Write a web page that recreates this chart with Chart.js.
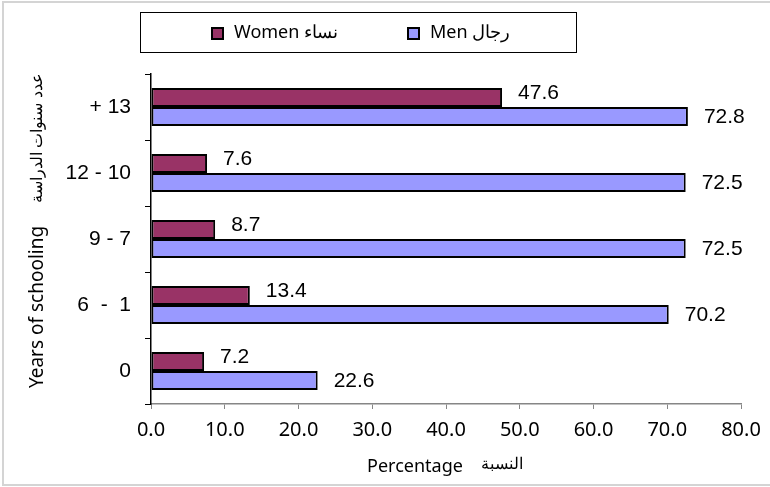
<!DOCTYPE html>
<html>
<head>
<meta charset="utf-8">
<script src="https://cdn.jsdelivr.net/npm/chart.js@4/dist/chart.umd.min.js"></script>
<style>
  html, body { margin: 0; padding: 0; background: #ffffff; }
  #wrap { width: 770px; height: 487px; position: relative; }
</style>
</head>
<body>
<div id="wrap"><canvas id="c" width="770" height="487"></canvas></div>
<script>
const categories = ["+ 13", "12 - 10", "9 - 7", "6  -  1", "0"];
const womenValues = [47.6, 7.6, 8.7, 13.4, 7.2];
const menValues = [72.8, 72.5, 72.5, 70.2, 22.6];
const womenLabel = "Women نساء";
const menLabel = "Men رجال";
const xTitleEn = "Percentage";
const xTitleAr = "النسبة";
const yTitleEn = "Years of schooling";
const yTitleAr = "عدد سنوات الدراسة";

const ARIAL = "'Liberation Sans', Arial, sans-serif";
const SANS = "'Noto Sans', 'Open Sans', sans-serif";

const decorPlugin = {
  id: 'decor',
  afterDraw(chart) {
    const ctx = chart.ctx;
    ctx.save();
    // outer border (left, top, bottom)
    ctx.strokeStyle = '#d4d4d4';
    ctx.lineWidth = 2;
    ctx.beginPath();
    ctx.moveTo(772, 2); ctx.lineTo(3, 2); ctx.lineTo(3, 485); ctx.lineTo(772, 485);
    ctx.stroke();

    // legend box
    ctx.strokeStyle = '#000000';
    ctx.lineWidth = 1;
    ctx.strokeRect(140.5, 12.5, 436, 40);
    const items = [
      { x: 212, label: chart.data.datasets[0].label, color: chart.data.datasets[0].backgroundColor },
      { x: 408, label: chart.data.datasets[1].label, color: chart.data.datasets[1].backgroundColor }
    ];
    ctx.font = '18px ' + SANS;
    ctx.textBaseline = 'middle';
    ctx.textAlign = 'left';
    items.forEach(it => {
      ctx.fillStyle = it.color;
      ctx.fillRect(it.x, 28, 11, 11);
      ctx.strokeStyle = '#000';
      ctx.lineWidth = 2;
      ctx.strokeRect(it.x, 28, 11, 11);
      ctx.fillStyle = '#000';
      ctx.fillText(it.label, it.x + 22, 33);
    });

    // x title
    ctx.fillStyle = '#000';
    ctx.textAlign = 'center';
    ctx.textBaseline = 'middle';
    ctx.font = '18px ' + SANS;
    ctx.fillText(xTitleEn, 415, 467);
    ctx.font = '16px ' + SANS;
    ctx.fillText(xTitleAr, 502, 464);

    // y title
    ctx.save();
    ctx.translate(38, 0);
    ctx.rotate(-Math.PI / 2);
    ctx.font = '19px ' + SANS;
    ctx.fillText(yTitleEn, -307, 0);
    ctx.font = '16px ' + SANS;
    ctx.fillText(yTitleAr, -138, -1);
    ctx.restore();

    ctx.restore();
  },
  afterDatasetsDraw(chart) {
    const ctx = chart.ctx;
    ctx.save();
    ctx.font = '21px ' + ARIAL;
    ctx.fillStyle = '#000';
    ctx.textAlign = 'left';
    ctx.textBaseline = 'middle';
    chart.data.datasets.forEach((ds, di) => {
      const meta = chart.getDatasetMeta(di);
      meta.data.forEach((el, i) => {
        const v = ds.data[i];
        const dy = di === 0 ? -4 : 1;
        ctx.fillText(v.toFixed(1), el.x + 16, el.y + dy);
      });
    });
    ctx.restore();
  }
};

new Chart(document.getElementById('c'), {
  type: 'bar',
  data: {
    labels: categories,
    datasets: [
      { label: womenLabel, data: womenValues, backgroundColor: '#993366', borderColor: '#000000', borderWidth: 2, borderSkipped: false },
      { label: menLabel, data: menValues, backgroundColor: '#9999FF', borderColor: '#000000', borderWidth: 2, borderSkipped: false }
    ]
  },
  options: {
    indexAxis: 'y',
    responsive: false,
    animation: false,
    devicePixelRatio: 1,
    layout: { padding: { top: 74, right: 29, left: 0, bottom: 0 } },
    datasets: { bar: { barPercentage: 1.0, categoryPercentage: 38 / 66 } },
    plugins: {
      legend: { display: false },
      tooltip: { enabled: false },
      title: { display: false }
    },
    scales: {
      x: {
        min: 0, max: 80,
        ticks: {
          stepSize: 10,
          color: '#000',
          font: { family: SANS, size: 20 },
          padding: 9,
          callback: v => Number(v).toFixed(1),
          maxRotation: 0
        },
        grid: { drawOnChartArea: false, tickLength: 5, color: '#868686', lineWidth: 1 },
        border: { color: '#868686', width: 1.5 },
        afterFit(s) { s.height = 83; }
      },
      y: {
        ticks: {
          color: '#000',
          font: { family: ARIAL, size: 21 },
          padding: 14
        },
        grid: { drawOnChartArea: false, tickLength: 6, color: '#000', lineWidth: 1, offset: true },
        border: { color: '#000', width: 1.5 },
        afterFit(s) { s.width = 151; }
      }
    }
  },
  plugins: [decorPlugin]
});
</script>
</body>
</html>
